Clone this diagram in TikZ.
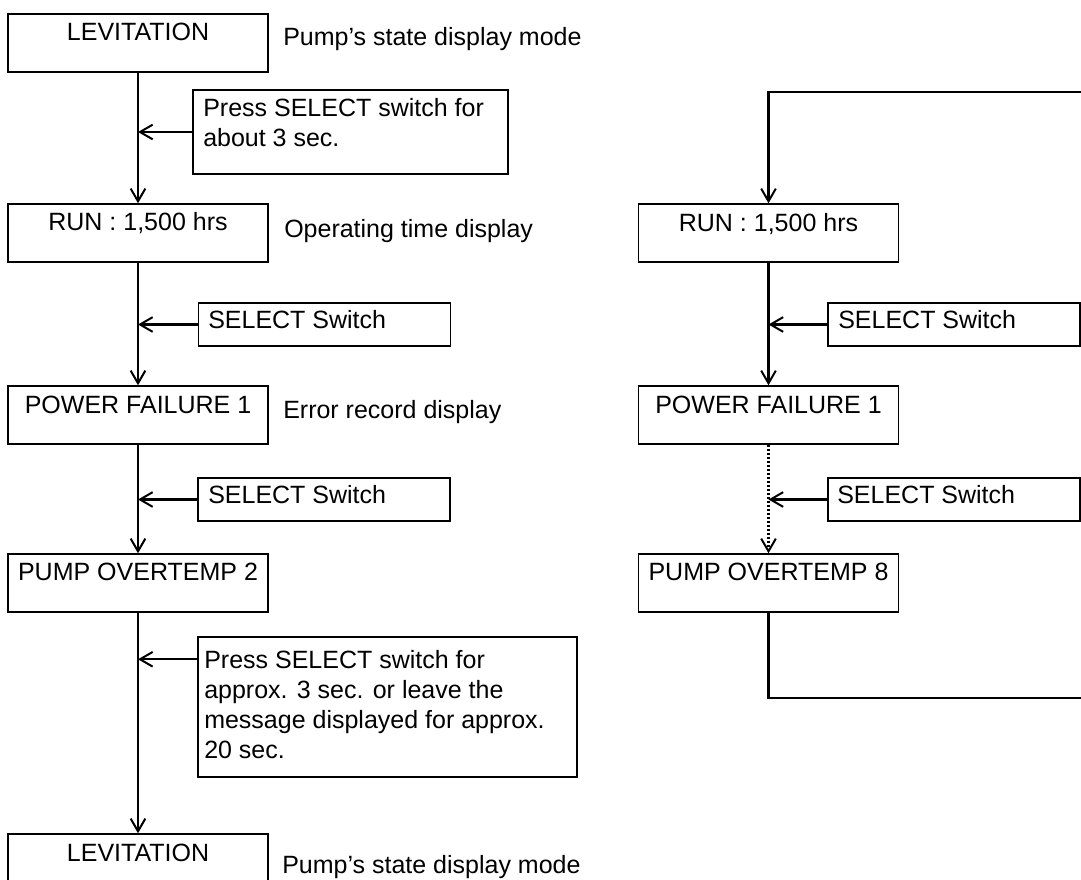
\documentclass[tikz,border=0pt]{standalone}
\usepackage{fontspec}
\setmainfont{Liberation Sans}
\usetikzlibrary{arrows.meta}
\begin{document}
\begin{tikzpicture}[x=0.75pt,y=-0.75pt,
  mainbox/.style={draw, line width=1.1pt, inner sep=0pt, minimum width=195pt, minimum height=43.5pt},
  sbox/.style={draw, line width=1.1pt, inner sep=0pt, minimum width=189pt, minimum height=32.25pt},
  pboxa/.style={draw, line width=1.1pt, inner sep=0pt, minimum width=236.25pt, minimum height=63pt},
  pboxb/.style={draw, line width=1.1pt, inner sep=0pt, minimum width=284.25pt, minimum height=105pt},
  txt/.style={inner sep=0pt, font=\fontsize{18.75pt}{22.5pt}\selectfont},
  conn/.style={line width=1.6pt},
  arr/.style={conn, -{Straight Barb[length=9.5pt, width=11pt, line width=1.5pt]}},
  dotline/.style={line width=2pt, dash pattern=on 1.5pt off 1.5pt}]
\clip (0,0) rectangle (1081,879);
\fill[white] (0,0) rectangle (1081,879);

% left column
\node[mainbox] (lev1) at (138,43) {};
\node[txt, anchor=base] (lev1t) at (138,40) {LEVITATION};
\node[txt, anchor=base west] (lev1l) at (283,45) {Pump’s state display mode};

\node[pboxa] (p1) at (350.5,132) {};
\node[txt, anchor=base west, align=left] (p1t) at (203,146) {Press SELECT switch for\\about 3 sec.};

\node[mainbox] (run1) at (138,233) {};
\node[txt, anchor=base] (run1t) at (138,230) {RUN : 1,500 hrs};
\node[txt, anchor=base west] (run1l) at (284,237) {Operating time display};

\node[sbox] (s1) at (324.5,324.5) {};
\node[txt, anchor=base west] (s1t) at (208,328) {SELECT Switch};

\node[mainbox] (pf1) at (138,415) {};
\node[txt, anchor=base] (pf1t) at (138,413) {POWER FAILURE 1};
\node[txt, anchor=base west] (pf1l) at (283,418) {Error record display};

\node[sbox] (s2) at (324,499.5) {};
\node[txt, anchor=base west] (s2t) at (208,503) {SELECT Switch};

\node[mainbox] (pot2) at (138,583) {};
\node[txt, anchor=base] (pot2t) at (138,580) {PUMP OVERTEMP 2};

\node[pboxb] (p2) at (387.5,707) {};
\node[txt, anchor=base west, align=left] (p2t) at (204,758) {Press SELECT switch for\\approx. 3 sec. or leave the\\message displayed for approx.\\20 sec.};

\node[mainbox] (lev2) at (138,863) {};
\node[txt, anchor=base] (lev2t) at (138,861) {LEVITATION};
\node[txt, anchor=base west] (lev2l) at (282,873) {Pump’s state display mode};

% right column
\node[mainbox] (run2) at (768.5,233) {};
\node[txt, anchor=base] (run2t) at (768.5,231) {RUN : 1,500 hrs};

\node[sbox] (s3) at (954,324.5) {};
\node[txt, anchor=base west] (s3t) at (838,328) {SELECT Switch};

\node[mainbox] (pf2) at (768.5,415) {};
\node[txt, anchor=base] (pf2t) at (768.5,413) {POWER FAILURE 1};

\node[sbox] (s4) at (954,499.5) {};
\node[txt, anchor=base west] (s4t) at (837,503) {SELECT Switch};

\node[mainbox] (pot8) at (768.5,583) {};
\node[txt, anchor=base] (pot8t) at (768.5,580) {PUMP OVERTEMP 8};

\coordinate (rtop) at (1081,92);
\coordinate (rbot) at (1081,698);
\coordinate (p2a) at ([yshift=-17.25pt]p2.north west);

% connectors left
\draw[arr] (lev1) -- (run1);
\draw[arr] (run1) -- (pf1);
\draw[arr] (pf1) -- (pot2);
\draw[arr] (pot2) -- (lev2);
\draw[arr] (p1.west) -- (p1.west -| lev1.south);
\draw[arr] (s1.west) -- (s1.west -| run1.south);
\draw[arr] (s2.west) -- (s2.west -| pf1.south);
\draw[arr] (p2a) -- (p2a -| pot2.south);

% connectors right
\draw[arr] (rtop) -| (run2.north);
\draw[arr] (run2) -- (pf2);
\draw[arr, dotline] (pf2) -- (pot8);
\draw[conn] (pot8.south) |- (rbot);
\draw[arr] (s3.west) -- (s3.west -| run2.south);
\draw[arr] (s4.west) -- (s4.west -| pf2.south);
\end{tikzpicture}
\end{document}
